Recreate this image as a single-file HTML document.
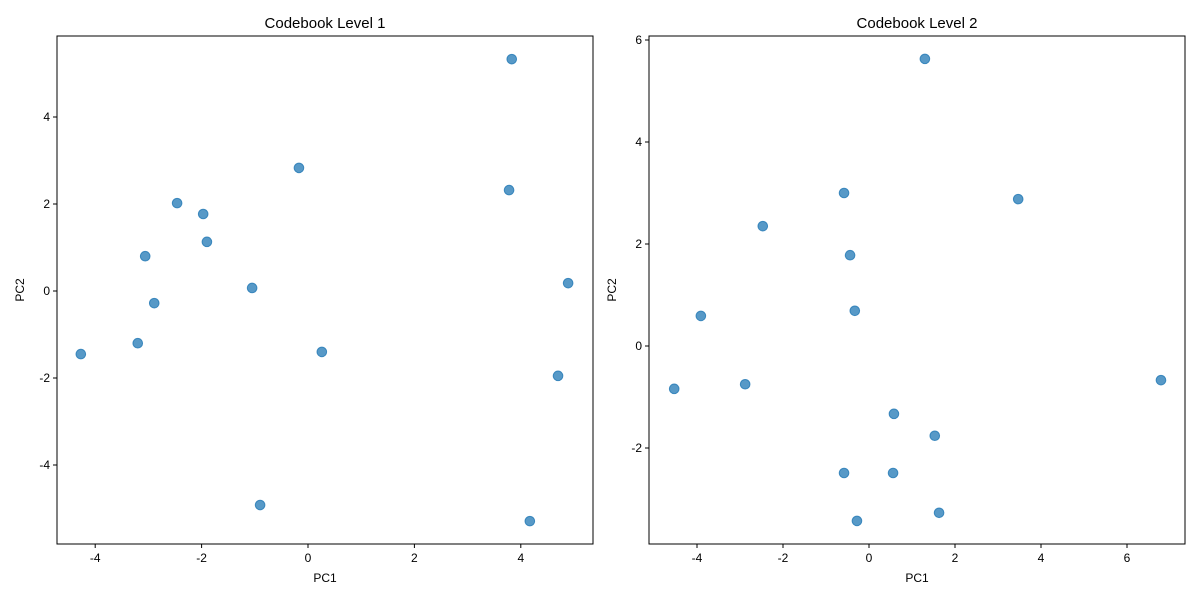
<!DOCTYPE html>
<html><head><meta charset="utf-8"><style>
body{margin:0;background:#fff;}
svg text{font-family:"Liberation Sans","DejaVu Sans",sans-serif;fill:#000;}
</style></head><body>
<svg id="chart" width="1200" height="600" xmlns="http://www.w3.org/2000/svg"></svg>
<script>
const l1X=[3.83,-0.17,3.78,-2.46,-1.97,-1.90,-3.06,4.89,-1.05,-2.89,-3.20,0.26,-4.27,4.70,-0.90,4.17];
const l1Y=[5.33,2.83,2.32,2.02,1.77,1.13,0.80,0.18,0.07,-0.28,-1.20,-1.40,-1.45,-1.95,-4.92,-5.29];
const l2X=[1.30,-0.58,3.47,-2.47,-0.44,-0.33,-3.91,6.79,-4.53,-2.88,0.58,1.53,-0.58,0.56,1.63,-0.28];
const l2Y=[5.63,3.00,2.88,2.35,1.78,0.69,0.59,-0.67,-0.84,-0.75,-1.33,-1.76,-2.49,-2.49,-3.27,-3.43];
const l1XTicks=[-4,-2,0,2,4];
const l1YTicks=[-4,-2,0,2,4];
const l2XTicks=[-4,-2,0,2,4,6];
const l2YTicks=[-2,0,2,4,6];
const NS="http://www.w3.org/2000/svg";
const svg=document.getElementById('chart');
function mk(tag,attrs,parent){const e=document.createElementNS(NS,tag);for(const k in attrs)e.setAttribute(k,attrs[k]);(parent||svg).appendChild(e);return e;}
function panel(cfg){
  const g=mk('g',{});
  
  
  const sx=v=>cfg.x0+v*cfg.kx, sy=v=>cfg.y0-v*cfg.ky;
  cfg.xs.forEach((v,i)=>{
    const c=mk('circle',{cx:sx(v),cy:sy(cfg.ys[i]),r:4.8,fill:'#1f77b4','fill-opacity':0.75,stroke:'#1f77b4','stroke-opacity':0.8,'stroke-width':1},g);
    
    
  });
  const fr=mk('rect',{x:cfg.L,y:36,width:cfg.R-cfg.L,height:508,fill:'none',stroke:'#000','stroke-width':1},g);
  
  
  cfg.xt.forEach(v=>{const x=sx(v);mk('line',{x1:x,x2:x,y1:544,y2:548,stroke:'#000'},g);
    const t=mk('text',{x:x,y:562,'font-size':12,'text-anchor':'middle'},g);t.textContent=String(v);
    });
  cfg.yt.forEach(v=>{const y=sy(v);mk('line',{x1:cfg.L-4,x2:cfg.L,y1:y,y2:y,stroke:'#000'},g);
    const t=mk('text',{x:cfg.L-7,y:y+4,'font-size':12,'text-anchor':'end'},g);t.textContent=String(v);
    });
  const ti=mk('text',{x:(cfg.L+cfg.R)/2,y:28,'font-size':15,'text-anchor':'middle'},g);ti.textContent=cfg.title;
  
  const xl=mk('text',{x:(cfg.L+cfg.R)/2,y:582,'font-size':12,'text-anchor':'middle'},g);xl.textContent='PC1';
  
  const cy=290,cx=cfg.L-33;
  const yl=mk('text',{x:cx,y:cy,'font-size':12,'text-anchor':'middle',transform:`rotate(-90 ${cx} ${cy})`},g);yl.textContent='PC2';
  
}
panel({name:'level-1-panel',title:'Codebook Level 1',L:57,R:593,x0:308,kx:53.2,y0:291,ky:43.5,xs:l1X,ys:l1Y,xt:l1XTicks,yt:l1YTicks});
panel({name:'level-2-panel',title:'Codebook Level 2',L:649,R:1185,x0:869,kx:43,y0:346,ky:51,xs:l2X,ys:l2Y,xt:l2XTicks,yt:l2YTicks});
</script>
</body></html>
